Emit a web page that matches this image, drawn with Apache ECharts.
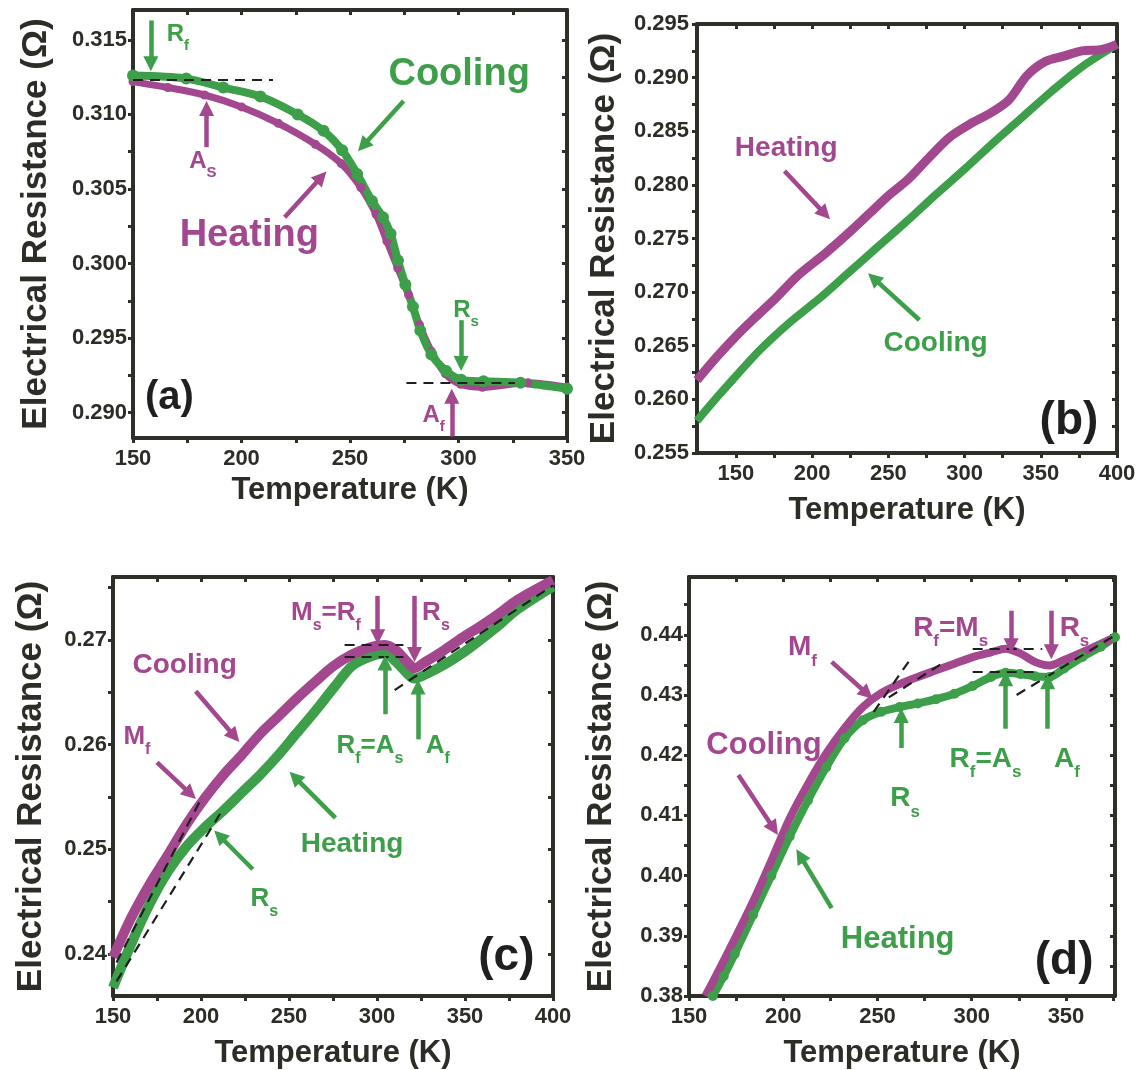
<!DOCTYPE html>
<html><head><meta charset="utf-8">
<script src="https://cdn.jsdelivr.net/npm/echarts@6/dist/echarts.min.js"></script>
<style>html,body{margin:0;padding:0;background:#fff}#c{width:1143px;height:1070px}</style>
</head><body><div id="c"></div>
<script>
// ---------- Panel (a) ----------
const aCoolT = [150,174.5,191.6,208.7,225.9,237.8,246.4,253.3,260.1,265.2,268.7,272.1,275.5,279,282.4,287.5,294.3,301.2,311.5,328.6,350];
const aCoolR = [0.3126,0.3124,0.3118,0.3112,0.3100,0.3089,0.3076,0.3060,0.3042,0.3031,0.3020,0.3002,0.2986,0.2971,0.2955,0.2939,0.2928,0.2922,0.2921,0.2920,0.2916];
const aHeatT = [150,166,183,200,217,234,246,255,262,267,272,277,282,287.5,294,301,311,332,350];
const aHeatR = [0.3122,0.3118,0.3113,0.3105,0.3094,0.3080,0.3067,0.3051,0.3033,0.3015,0.2997,0.2979,0.2959,0.2941,0.2926,0.2919,0.2917,0.2920,0.2917];
const aXLabels = [150,200,250,300,350];
const aXTicks = [150,175,200,225,250,275,300,325,350];
const aYLabels = [0.290,0.295,0.300,0.305,0.310,0.315];
const aYTicks = [0.290,0.2925,0.295,0.2975,0.300,0.3025,0.305,0.3075,0.310,0.3125,0.315];

// ---------- Panel (b) ----------
const bHeatT = [124.5,137.7,150.8,161.6,175.9,190.3,209.4,223.8,238.1,250.1,262.1,276.4,290.8,305.1,317.1,329,341,353,365,377,389,400];
const bHeatR = [0.2618,0.2640,0.2660,0.2675,0.2694,0.2715,0.2737,0.2755,0.2774,0.2790,0.2804,0.2825,0.2845,0.2858,0.2867,0.2879,0.2902,0.2915,0.2920,0.2925,0.2926,0.2931];
const bCoolT = [124.5,137.7,150.8,166.4,185.5,204.7,223.8,242.9,262.1,281.2,300.3,319.4,338.6,357.7,376.9,400];
const bCoolR = [0.2580,0.2602,0.2623,0.2647,0.2672,0.2694,0.2718,0.2742,0.2766,0.2791,0.2815,0.2840,0.2864,0.2888,0.2910,0.2931];
const bXLabels = [150,200,250,300,350,400];
const bXTicks = [150,175,200,225,250,275,300,325,350,375,400];
const bYLabels = [0.255,0.260,0.265,0.270,0.275,0.280,0.285,0.290,0.295];
const bYTicks = [0.255,0.2575,0.260,0.2625,0.265,0.2675,0.270,0.2725,0.275,0.2775,0.280,0.2825,0.285,0.2875,0.290,0.2925,0.295];

// ---------- Panel (c) ----------
const cT = [150,160.4,170.9,181.3,191.8,202.2,212.7,223.1,233.5,244,254.4,264.9,275.3,285.8,296.2,304.5,310.8,317.1,321.2,327.5,338,348.4,358.8,369.3,379.7,400];
const cCoolR = [0.2397,0.2435,0.2467,0.2495,0.2524,0.2549,0.2571,0.2590,0.2610,0.2627,0.2644,0.2660,0.2675,0.2686,0.2693,0.2695,0.2690,0.2679,0.2673,0.2679,0.2690,0.2702,0.2713,0.2725,0.2738,0.2757];
const cHeatR = [0.2368,0.2410,0.2448,0.2479,0.2503,0.2521,0.2537,0.2554,0.2571,0.2590,0.2611,0.2632,0.2654,0.2675,0.2684,0.2687,0.2679,0.2668,0.2663,0.2667,0.2676,0.2687,0.2700,0.2714,0.2729,0.2751];
const cXLabels = [150,200,250,300,350,400];
const cXTicks = [150,175,200,225,250,275,300,325,350,375,400];
const cYLabels = [0.24,0.25,0.26,0.27];
const cYTicks = [0.24,0.245,0.25,0.255,0.26,0.265,0.27,0.275];

// ---------- Panel (d) ----------
const dCoolT = [158.7,164.6,174.3,184,193.7,203.4,213.1,222.8,232.5,242.2,251.9,261.7,271.4,281.1,290.8,300.5,310.2,318,325.7,333.5,341.3,349,358.7,368.4,376];
const dCoolR = [0.3800,0.3835,0.3895,0.3957,0.4025,0.4095,0.4152,0.4203,0.4245,0.4280,0.4303,0.4318,0.4330,0.4341,0.4352,0.4363,0.4371,0.4377,0.4369,0.4355,0.4349,0.4358,0.4371,0.4385,0.4396];
const dHeatT = [162.6,168.4,174.3,184,193.7,203.4,213.1,222.8,232.5,242.2,251.9,261.7,271.4,281.1,290.8,300.5,310.2,318,325.7,333.5,341.3,349,358.7,368.4,376];
const dHeatR = [0.3800,0.3833,0.3870,0.3935,0.4000,0.4065,0.4125,0.4180,0.4228,0.4258,0.4272,0.4280,0.4286,0.4293,0.4302,0.4315,0.4330,0.4337,0.4335,0.4331,0.4330,0.4344,0.4363,0.4380,0.4396];
const dXLabels = [150,200,250,300,350];
const dXTicks = [150,175,200,225,250,275,300,325,350,375];
const dYLabels = [0.38,0.39,0.40,0.41,0.42,0.43,0.44];
const dYTicks = [0.38,0.385,0.39,0.395,0.40,0.405,0.41,0.415,0.42,0.425,0.43,0.435,0.44,0.445];

const P = '#a3478f', G = '#3d9f49', AX = '#2d2f28', TXT = '#2b2d26', DK = '#1f1f1f';
const F = '"Liberation Sans", Arial, sans-serif';

const zip = (a, b) => a.map((v, i) => [v, b[i]]);

// annotation helpers (data-space placement)
function txt(x, y, fmt, color, size) {
  const sub = Math.round(size * 0.62);
  return {
    coord: [x, y], symbol: 'rect', symbolSize: 1, itemStyle: {color: 'rgba(0,0,0,0)'},
    label: {
      show: true, position: 'inside', formatter: fmt, color: color, fontSize: size,
      fontWeight: 'bold', fontFamily: F,
      rich: {
        m: {fontSize: size, fontWeight: 'bold', color: color, fontFamily: F, padding: [0, 0, Math.round(size * 0.3), 0], verticalAlign: 'bottom'},
        s: {fontSize: sub, fontWeight: 'bold', color: color, fontFamily: F, verticalAlign: 'bottom'}
      }
    }
  };
}
function arrow(x1, y1, x2, y2, color) {
  return [
    {coord: [x1, y1], symbol: 'none', lineStyle: {color: color, width: 4.5, type: 'solid'}},
    {coord: [x2, y2], symbol: 'triangle', symbolSize: 15}
  ];
}
function dash(x1, y1, x2, y2) {
  return [
    {coord: [x1, y1], symbol: 'none', lineStyle: {color: DK, width: 2.2, type: [10, 7]}},
    {coord: [x2, y2], symbol: 'none'}
  ];
}
function marks(points, lines) {
  return {
    markPoint: {silent: true, animation: false, data: points},
    markLine: {silent: true, animation: false, symbol: ['none', 'triangle'], symbolSize: 15,
      label: {show: false}, emphasis: {disabled: true}, data: lines}
  };
}

const grids = [
  {left: 133, top: 10, width: 434, height: 428},
  {left: 697, top: 24, width: 420, height: 429},
  {left: 113, top: 577, width: 440, height: 420},
  {left: 689, top: 577, width: 426, height: 420}
];
const panels = [
  {xr: [150, 350], yr: [0.2883, 0.317], xl: aXLabels, xt: aXTicks, yl: aYLabels, yt: aYTicks, yd: 3, ygap: 79, xgap: 37, ym: 6},
  {xr: [124.5, 400], yr: [0.255, 0.295], xl: bXLabels, xt: bXTicks, yl: bYLabels, yt: bYTicks, yd: 3, ygap: 75, xgap: 42, ym: 8},
  {xr: [150, 400], yr: [0.236, 0.276], xl: cXLabels, xt: cXTicks, yl: cYLabels, yt: cYTicks, yd: 2, ygap: 64, xgap: 42, ym: 6},
  {xr: [150, 376], yr: [0.38, 0.4496], xl: dXLabels, xt: dXTicks, yl: dYLabels, yt: dYTicks, yd: 2, ygap: 70, xgap: 42, ym: 6}
];

const axLine = {show: true, onZero: false, lineStyle: {color: AX, width: 4}};
const tickStyle = {color: AX, width: 3};
const lblStyle = {color: TXT, fontSize: 22, fontWeight: 'bold', fontFamily: F};
const xAxes = [], yAxes = [];
panels.forEach((p, i) => {
  xAxes.push({gridIndex: i, type: 'value', position: 'bottom', min: p.xr[0], max: p.xr[1],
    axisLine: axLine, splitLine: {show: false},
    axisTick: {show: true, customValues: p.xt, length: 5, lineStyle: tickStyle},
    axisLabel: Object.assign({customValues: p.xl, margin: 10, formatter: v => String(Math.round(v))}, lblStyle),
    name: 'Temperature (K)', nameLocation: 'middle', nameGap: p.xgap,
    nameTextStyle: {color: TXT, fontSize: 31, fontWeight: 'bold', fontFamily: F}});
  xAxes.push({gridIndex: i, type: 'value', position: 'top', min: p.xr[0], max: p.xr[1],
    axisLine: axLine, splitLine: {show: false},
    axisTick: {show: true, inside: true, customValues: p.xt, length: 5, lineStyle: tickStyle},
    axisLabel: {show: false}});
  yAxes.push({gridIndex: i, type: 'value', position: 'left', min: p.yr[0], max: p.yr[1],
    axisLine: axLine, splitLine: {show: false},
    axisTick: {show: true, customValues: p.yt, length: 5, lineStyle: tickStyle},
    axisLabel: Object.assign({customValues: p.yl, margin: p.ym, formatter: v => v.toFixed(p.yd)}, lblStyle),
    name: 'Electrical Resistance (\u03A9)', nameLocation: 'middle', nameGap: p.ygap,
    nameTextStyle: {color: TXT, fontSize: 35, fontWeight: 'bold', fontFamily: F}});
  yAxes.push({gridIndex: i, type: 'value', position: 'right', min: p.yr[0], max: p.yr[1],
    axisLine: axLine, splitLine: {show: false},
    axisTick: {show: true, inside: true, customValues: p.yt, length: 5, lineStyle: tickStyle},
    axisLabel: {show: false}});
});

function line(i, data, color, width, symSize, extra) {
  return Object.assign({
    type: 'line', xAxisIndex: 2 * i, yAxisIndex: 2 * i, data: data, smooth: 0.3,
    lineStyle: {color: color, width: width}, itemStyle: {color: color},
    showSymbol: symSize > 0, symbol: 'circle', symbolSize: symSize,
    emphasis: {disabled: true}, silent: true, animation: false, z: 3
  }, extra || {});
}

const series = [
  // (a)
  line(0, zip(aHeatT, aHeatR), P, 7, 9),
  line(0, zip(aCoolT, aCoolR), G, 8, 12, marks([
    txt(170.7, 0.3151, '{m|R}{s|f}', G, 24),
    txt(182.2, 0.3066, '{m|A}{s|S}', P, 24),
    txt(300.3, 0.3127, 'Cooling', G, 38),
    txt(203.6, 0.3019, 'Heating', P, 38),
    txt(303.5, 0.2966, '{m|R}{s|s}', G, 24),
    txt(288.5, 0.2896, '{m|A}{s|f}', P, 24),
    txt(166.8, 0.2910, '(a)', DK, 40)
  ], [
    dash(150, 0.3123, 214.5, 0.3123),
    dash(276, 0.2920, 326, 0.2920),
    arrow(158.2, 0.3163, 158.2, 0.3134, G),
    arrow(183.9, 0.3078, 183.9, 0.3104, P),
    arrow(274.7, 0.3109, 256, 0.3079, G),
    arrow(219.9, 0.3031, 236.8, 0.3058, P),
    arrow(301.2, 0.2962, 301.2, 0.2933, G),
    arrow(296.9, 0.2884, 296.9, 0.2911, P)
  ])),
  // (b)
  line(1, zip(bCoolT, bCoolR), G, 8, 0),
  line(1, zip(bHeatT, bHeatR), P, 9, 0, marks([
    txt(183, 0.2834, 'Heating', P, 28),
    txt(281, 0.2652, 'Cooling', G, 28),
    txt(368.5, 0.2580, '(b)', DK, 46)
  ], [
    arrow(181.9, 0.2813, 208.4, 0.2773, P),
    arrow(270.4, 0.2674, 240.3, 0.2713, G)
  ])),
  // (c)
  line(2, zip(cT, cHeatR), G, 10, 0),
  line(2, zip(cT, cCoolR), P, 10, 0, marks([
    txt(190.7, 0.2676, 'Cooling', P, 28),
    txt(163.6, 0.2604, '{m|M}{s|f}', P, 26),
    txt(271, 0.2722, '{m|M}{s|s}{m|=R}{s|f}', P, 26),
    txt(333.5, 0.2722, '{m|R}{s|s}', P, 26),
    txt(296, 0.2595, '{m|R}{s|f}{m|=A}{s|s}', G, 26),
    txt(334.5, 0.2595, '{m|A}{s|f}', G, 26),
    txt(285.8, 0.2505, 'Heating', G, 28),
    txt(236, 0.2449, '{m|R}{s|s}', G, 26),
    txt(373.5, 0.2397, '(c)', DK, 46)
  ], [
    dash(281.6, 0.2695, 315, 0.2695),
    dash(281.6, 0.2684, 315, 0.2684),
    dash(310, 0.2652, 400, 0.2752),
    dash(152, 0.2392, 200, 0.2548),
    dash(152, 0.2374, 212, 0.2537),
    arrow(197, 0.2651, 219, 0.2608, P),
    arrow(175, 0.2583, 194, 0.2553, P),
    arrow(300.4, 0.2742, 300.4, 0.2703, P),
    arrow(321.3, 0.2742, 321.3, 0.2686, P),
    arrow(304.5, 0.2629, 304.5, 0.2678, G),
    arrow(323.3, 0.2605, 323.3, 0.2655, G),
    arrow(276.4, 0.2530, 253.3, 0.2569, G),
    arrow(229.4, 0.2481, 210.5, 0.2513, G)
  ])),
  // (d)
  line(3, zip(dHeatT, dHeatR), G, 8, 10),
  line(3, zip(dCoolT, dCoolR), P, 8, 0, marks([
    txt(210.2, 0.4372, '{m|M}{s|f}', P, 28),
    txt(288.8, 0.4405, '{m|R}{s|f}{m|=M}{s|s}', P, 28),
    txt(354.5, 0.4405, '{m|R}{s|s}', P, 28),
    txt(189.8, 0.4217, 'Cooling', P, 31),
    txt(264.6, 0.4121, '{m|R}{s|s}', G, 28),
    txt(307.3, 0.4187, '{m|R}{s|f}{m|=A}{s|s}', G, 28),
    txt(350.5, 0.4187, '{m|A}{s|f}', G, 28),
    txt(260.7, 0.3894, 'Heating', G, 31),
    txt(349, 0.3858, '(d)', DK, 46)
  ], [
    dash(300.5, 0.4376, 337.4, 0.4376),
    dash(300.5, 0.4338, 333.5, 0.4338),
    dash(248, 0.4272, 268, 0.4362),
    dash(256, 0.4296, 284, 0.4352),
    dash(323.8, 0.4300, 376, 0.4399),
    arrow(225.7, 0.4355, 244.5, 0.4302, P),
    arrow(320.9, 0.4440, 320.9, 0.4382, P),
    arrow(342.2, 0.4440, 342.2, 0.4372, P),
    arrow(176.2, 0.4167, 195, 0.4078, P),
    arrow(262.6, 0.4212, 262.6, 0.4266, G),
    arrow(318, 0.4244, 318, 0.4327, G),
    arrow(340.3, 0.4244, 340.3, 0.4322, G),
    arrow(225.7, 0.3946, 209, 0.4033, G)
  ]))
];

const chart = echarts.init(document.getElementById('c'), null, {renderer: 'canvas'});
chart.setOption({
  backgroundColor: '#ffffff',
  animation: false,
  grid: grids,
  xAxis: xAxes,
  yAxis: yAxes,
  series: series
});
</script>
</body></html>
